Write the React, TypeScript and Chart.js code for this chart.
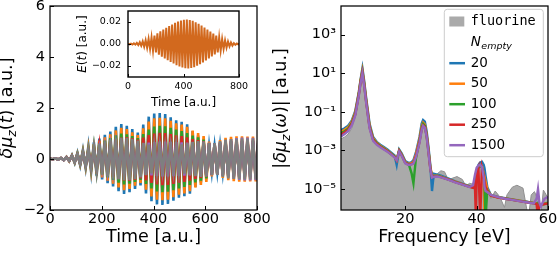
import React, { useEffect, useRef } from 'react';
import { Chart, registerables } from 'chart.js';

Chart.register(...registerables);

const FONT = '"DejaVu Sans", sans-serif';
const MONO = '"DejaVu Sans Mono", monospace';
Chart.defaults.font.family = FONT;
Chart.defaults.color = '#000';

// ---------- data ----------
const PERIOD = 21.2; // a.u., spacing of successive crests

const timeTicks = [0, 200, 400, 600, 800];
const dipoleTicks = [-2, 0, 2, 4, 6];
const dipoleTickLabels = ['\u22122', '0', '2', '4', '6'];
const fieldTimeTicks = [0, 400, 800];
const fieldTicks = [-0.02, 0, 0.02];
const fieldTickLabels = ['\u22120.02', '0.00', '0.02'];
const freqTicks = [20, 40, 60];
const specTicks = [1e-5, 1e-3, 1e-1, 1e1, 1e3];
const specTickLabels = ['10\u207B\u2075', '10\u207B\u00B3', '10\u207B\u00B9', '10\u00B9', '10\u00B3'];

const nEmptyLabels = ['20', '50', '100', '250', '1500'];

// crest amplitude of each oscillation cycle, delta mu_z(t)
const amp20 = [0.01, 0.02, 0.04, 0.08, 0.15, 0.24, 0.35, 0.5, 0.65, 0.8, 0.95, 1.08, 1.26, 1.37, 1.3, 1.17, 1.04, 1.35, 1.66, 1.78, 1.8, 1.76, 1.64, 1.52, 1.46, 1.36, 1.1, 0.92, 0.65, 0.5, 0.5, 0.52, 0.55, 0.58, 0.6, 0.6, 0.6, 0.6, 0.6];
const amp50 = [0.01, 0.02, 0.04, 0.08, 0.14, 0.22, 0.32, 0.45, 0.58, 0.72, 0.85, 0.97, 1.12, 1.22, 1.17, 1.05, 0.94, 1.2, 1.47, 1.6, 1.62, 1.6, 1.5, 1.4, 1.35, 1.26, 1.12, 1.02, 0.9, 0.68, 0.62, 0.74, 0.83, 0.87, 0.89, 0.89, 0.88, 0.88, 0.88];
const amp100 = [0.01, 0.02, 0.04, 0.07, 0.13, 0.2, 0.28, 0.38, 0.48, 0.6, 0.72, 0.82, 0.93, 1.0, 0.97, 0.9, 0.82, 0.98, 1.15, 1.27, 1.3, 1.28, 1.22, 1.15, 1.1, 1.02, 0.92, 0.85, 0.76, 0.62, 0.6, 0.64, 0.68, 0.7, 0.72, 0.72, 0.72, 0.72, 0.72];
const amp250 = [0.01, 0.02, 0.04, 0.07, 0.12, 0.18, 0.25, 0.33, 0.42, 0.52, 0.62, 0.7, 0.78, 0.84, 0.86, 0.82, 0.76, 0.84, 0.94, 1.0, 1.03, 1.02, 0.98, 0.93, 0.9, 0.85, 0.78, 0.74, 0.7, 0.62, 0.6, 0.63, 0.66, 0.68, 0.7, 0.7, 0.7, 0.7, 0.7];
const amp1500 = [0.01, 0.02, 0.04, 0.06, 0.11, 0.16, 0.22, 0.28, 0.34, 0.4, 0.46, 0.5, 0.54, 0.57, 0.59, 0.6, 0.6, 0.62, 0.64, 0.66, 0.68, 0.68, 0.67, 0.66, 0.65, 0.64, 0.64, 0.65, 0.66, 0.63, 0.62, 0.66, 0.72, 0.78, 0.82, 0.84, 0.84, 0.83, 0.82];
const ampFluorine = [0.01, 0.02, 0.04, 0.07, 0.13, 0.2, 0.29, 0.39, 0.5, 0.6, 0.68, 0.75, 0.8, 0.83, 0.83, 0.79, 0.72, 0.63, 0.56, 0.51, 0.49, 0.48, 0.49, 0.52, 0.57, 0.62, 0.67, 0.7, 0.69, 0.63, 0.62, 0.7, 0.76, 0.78, 0.79, 0.8, 0.8, 0.8, 0.8];

// crest amplitude of each cycle of the field E(t)
const fieldAmp = [0.0003, 0.0004, 0.0006, 0.001, 0.0016, 0.0024, 0.0034, 0.0046, 0.006, 0.0076, 0.0098, 0.0115, 0.0132, 0.0148, 0.0163, 0.0178, 0.0192, 0.0205, 0.0214, 0.022, 0.0222, 0.0218, 0.021, 0.0198, 0.0184, 0.0168, 0.015, 0.0132, 0.0113, 0.0094, 0.0076, 0.006, 0.0045, 0.0033, 0.0022, 0.0014, 0.0008, 0.0004, 0.0003];

// spectra |delta mu_z(omega)|, stored as log10 of the value
const specFreq = [2, 3, 4, 5, 6, 7, 7.5, 8, 8.5, 9, 10, 11, 12, 13, 14, 15, 16, 17, 17.6, 18.3, 19, 20, 21, 21.8, 22.3, 23, 24, 24.6, 25, 25.5, 26, 26.5, 27, 27.5, 28, 29, 30, 32, 34, 36, 38, 39, 39.5, 39.8, 40, 40.5, 41, 41.5, 42, 42.2, 42.5, 43, 44, 46, 48, 50, 52, 54, 56, 56.8, 57.2, 57.6, 58, 59, 60];
const logSpec20 = [-1.95, -1.85, -1.72, -1.45, -0.95, 0.05, 0.7, 1.26, 0.6, -0.2, -1.6, -2.3, -2.55, -2.7, -2.82, -2.95, -3.1, -3.25, -3.75, -2.95, -3.15, -3.55, -3.65, -3.6, -3.5, -3.1, -2.3, -1.6, -1.42, -1.5, -2.0, -2.8, -3.7, -5.1, -4.2, -4.25, -4.3, -4.45, -4.6, -4.72, -4.85, -4.9, -4.5, -4.25, -4.05, -3.75, -3.62, -3.58, -3.75, -3.9, -4.3, -4.9, -5.3, -5.4, -5.47, -5.53, -5.6, -5.65, -5.72, -5.74, -5.7, -5.76, -5.8, -5.75, -5.7];
const logSpec50 = [-2.03, -1.93, -1.8, -1.52, -1.02, 0.0, 0.65, 1.16, 0.5, -0.3, -1.7, -2.35, -2.6, -2.75, -2.87, -3.0, -3.15, -3.3, -3.5, -3.0, -3.2, -3.6, -3.7, -3.65, -3.6, -3.2, -2.4, -1.75, -1.55, -1.65, -2.15, -2.95, -3.8, -4.3, -4.3, -4.3, -4.35, -4.48, -4.62, -4.74, -4.86, -4.9, -4.6, -4.4, -4.15, -3.85, -3.75, -3.8, -4.2, -6.5, -4.6, -5.0, -5.32, -5.42, -5.48, -5.54, -5.6, -5.66, -5.72, -5.74, -5.72, -5.76, -5.8, -5.76, -5.72];
const logSpec100 = [-2.1, -2.0, -1.87, -1.58, -1.08, -0.05, 0.6, 1.1, 0.45, -0.35, -1.75, -2.4, -2.63, -2.78, -2.9, -3.02, -3.17, -3.32, -3.45, -3.0, -3.22, -3.62, -3.72, -4.2, -4.7, -3.4, -2.5, -1.85, -1.62, -1.72, -2.2, -3.0, -3.85, -4.35, -4.32, -4.32, -4.37, -4.5, -4.63, -4.75, -4.87, -4.92, -4.65, -4.45, -4.2, -3.9, -3.8, -3.85, -4.3, -4.8, -6.5, -5.05, -5.33, -5.43, -5.49, -5.55, -5.61, -5.67, -5.73, -5.75, -5.73, -5.77, -5.81, -5.77, -5.73];
const logSpec250 = [-2.18, -2.07, -1.93, -1.63, -1.13, -0.1, 0.55, 1.05, 0.4, -0.4, -1.8, -2.45, -2.66, -2.8, -2.92, -3.04, -3.19, -3.34, -3.5, -3.02, -3.25, -3.64, -3.74, -3.7, -3.65, -3.3, -2.55, -1.9, -1.7, -1.78, -2.25, -3.05, -3.9, -4.4, -4.35, -4.34, -4.38, -4.5, -4.64, -4.76, -4.88, -4.93, -4.7, -6.5, -4.3, -3.95, -6.5, -3.9, -4.3, -4.6, -4.9, -5.1, -5.34, -5.44, -5.5, -5.56, -5.62, -5.68, -5.74, -5.76, -6.5, -5.78, -5.82, -5.78, -5.74];
const logSpec1500 = [-2.27, -2.15, -2.0, -1.7, -1.18, -0.15, 0.5, 1.0, 0.35, -0.45, -1.85, -2.5, -2.7, -2.83, -2.95, -3.06, -3.2, -3.35, -3.5, -3.05, -3.27, -3.66, -3.75, -3.72, -3.68, -3.35, -2.6, -1.95, -1.72, -1.82, -2.3, -3.1, -3.92, -4.4, -4.36, -4.35, -4.39, -4.51, -4.65, -4.77, -4.89, -4.8, -4.3, -4.05, -3.9, -3.78, -3.75, -3.85, -4.4, -4.9, -5.1, -5.15, -5.3, -5.42, -5.5, -5.56, -5.62, -5.68, -5.74, -5.5, -5.0, -5.7, -5.9, -5.5, -5.4];

const fluorineFreq = [2, 3, 4, 5, 6, 7, 7.5, 8, 8.5, 9, 10, 11, 12, 13, 14, 15, 16, 17, 17.6, 18.3, 19, 20, 21, 22, 23, 24, 24.6, 25, 25.5, 26, 26.5, 27, 27.5, 28, 29, 30, 31, 32, 33, 34.5, 36, 37, 38, 39, 40, 41, 42, 43, 44, 45.2, 46.5, 47.8, 48.5, 50, 51.3, 53, 54.5, 55.3, 56.2, 57.3, 57.9, 58.7, 59.5, 60];
const logFluorine = [-2.4, -2.3, -2.15, -1.85, -1.3, -0.25, 0.45, 1.05, 0.35, -0.5, -1.8, -2.5, -2.7, -2.85, -2.95, -3.05, -3.2, -3.35, -3.45, -3.05, -3.3, -3.7, -3.8, -3.7, -3.3, -2.5, -1.95, -1.85, -1.95, -2.4, -3.1, -3.9, -4.4, -4.5, -4.2, -4.05, -4.1, -4.5, -4.45, -4.35, -4.5, -4.85, -4.7, -4.75, -4.2, -3.8, -4.1, -5.0, -5.5, -5.1, -5.4, -5.95, -5.3, -4.9, -4.8, -4.95, -6.5, -5.3, -5.13, -5.6, -6.5, -5.05, -5.3, -5.5];

// ---------- styles ----------
const SERIES_COLORS = ['#1f77b4', '#ff7f0e', '#2ca02c', '#d62728', '#9467bd'];
const FLUORINE_LINE = '#7f7f7f';
const FLUORINE_FILL = '#aaaaaa';
const FIELD_COLOR = '#d2691e';

// ---------- helpers ----------
function oscillation(amps: number[]) {
  const pts: { x: number; y: number }[] = [];
  amps.forEach((a, k) => {
    pts.push({ x: k * PERIOD, y: a });
    pts.push({ x: k * PERIOD + PERIOD / 2, y: -a });
  });
  return pts;
}

function spectrum(freqs: number[], logs: number[]) {
  return freqs.map((f, i) => ({ x: f, y: Math.pow(10, logs[i]) }));
}

function fixedTicks(values: number[]) {
  return (scale: any) => {
    scale.ticks = values.map((v) => ({ value: v }));
  };
}

function fixSize(dim: 'width' | 'height', size: number) {
  return (scale: any) => {
    scale[dim] = size;
    scale.paddingLeft = 0;
    scale.paddingRight = 0;
    scale.paddingTop = 0;
    scale.paddingBottom = 0;
  };
}

function framePlugin(id: string, lw: number, tickLen: number) {
  return {
    id,
    afterDatasetsDraw(chart: any) {
      const { ctx, chartArea } = chart;
      const { left, right, top, bottom } = chartArea;
      const xs = chart.scales.x;
      const ys = chart.scales.y;
      ctx.save();
      ctx.strokeStyle = '#000';
      ctx.lineWidth = 1;
      ctx.beginPath();
      xs.ticks.forEach((t: any) => {
        const px = Math.round(xs.getPixelForValue(t.value)) + 0.5;
        ctx.moveTo(px, bottom);
        ctx.lineTo(px, bottom - tickLen);
      });
      ys.ticks.forEach((t: any) => {
        const py = Math.round(ys.getPixelForValue(t.value)) + 0.5;
        ctx.moveTo(left, py);
        ctx.lineTo(left + tickLen, py);
      });
      ctx.stroke();
      ctx.lineWidth = lw;
      ctx.strokeRect(left, top, right - left, bottom - top);
      ctx.restore();
    },
  };
}

const whiteAreaPlugin = {
  id: 'whiteArea',
  beforeDraw(chart: any) {
    const { ctx, chartArea } = chart;
    ctx.save();
    ctx.fillStyle = '#fff';
    ctx.fillRect(chartArea.left, chartArea.top, chartArea.right - chartArea.left, chartArea.bottom - chartArea.top);
    ctx.restore();
  },
};

type Part = { t: string; italic?: boolean; scale?: number; dy?: number };

function drawRich(ctx: CanvasRenderingContext2D, parts: Part[], x: number, y: number, size: number) {
  ctx.save();
  ctx.translate(x, y);
  ctx.rotate(-Math.PI / 2);
  ctx.textAlign = 'left';
  ctx.textBaseline = 'alphabetic';
  ctx.fillStyle = '#000';
  const fonts = parts.map((p) => `${p.italic ? 'italic ' : ''}${size * (p.scale ?? 1)}px ${FONT}`);
  const widths = parts.map((p, i) => {
    ctx.font = fonts[i];
    return ctx.measureText(p.t).width;
  });
  const total = widths.reduce((a, b) => a + b, 0);
  let cx = -total / 2;
  parts.forEach((p, i) => {
    ctx.font = fonts[i];
    ctx.fillText(p.t, cx, (p.dy ?? 0) * size);
    cx += widths[i];
  });
  ctx.restore();
}

function yTitlePlugin(id: string, parts: Part[], x: number, y: number, size: number) {
  return {
    id,
    afterDraw(chart: any) {
      drawRich(chart.ctx, parts, x, y, size);
    },
  };
}

const legendPlugin = {
  id: 'specLegend',
  afterDraw(chart: any) {
    const { ctx, chartArea } = chart;
    const bw = 99;
    const bh = 147.4;
    const bx = chartArea.right - 4.7 - bw;
    const by = chartArea.top + 3.3;
    const r = 3;
    ctx.save();
    ctx.beginPath();
    ctx.moveTo(bx + r, by);
    ctx.lineTo(bx + bw - r, by);
    ctx.quadraticCurveTo(bx + bw, by, bx + bw, by + r);
    ctx.lineTo(bx + bw, by + bh - r);
    ctx.quadraticCurveTo(bx + bw, by + bh, bx + bw - r, by + bh);
    ctx.lineTo(bx + r, by + bh);
    ctx.quadraticCurveTo(bx, by + bh, bx, by + bh - r);
    ctx.lineTo(bx, by + r);
    ctx.quadraticCurveTo(bx, by, bx + r, by);
    ctx.closePath();
    ctx.fillStyle = 'rgba(255,255,255,0.8)';
    ctx.fill();
    ctx.strokeStyle = '#cccccc';
    ctx.lineWidth = 1;
    ctx.stroke();

    const rowY = (i: number) => (i === 0 ? by + 12.2 : by + 33.4 + (i - 1) * 20.5);
    const tx = bx + 26.4;
    ctx.textBaseline = 'middle';
    ctx.textAlign = 'left';
    ctx.fillStyle = FLUORINE_FILL;
    ctx.fillRect(bx + 5, rowY(0) - 5, 15, 10);
    ctx.fillStyle = '#000';
    ctx.font = `13.5px ${MONO}`;
    ctx.fillText('fluorine', tx, rowY(0));
    ctx.font = `italic 13.5px ${FONT}`;
    ctx.fillText('N', tx, rowY(1));
    const nw = ctx.measureText('N').width;
    ctx.font = `italic 9.5px ${FONT}`;
    ctx.fillText('empty', tx + nw + 0.5, rowY(1) + 3.5);
    nEmptyLabels.forEach((lab, i) => {
      const yy = rowY(i + 2);
      ctx.strokeStyle = SERIES_COLORS[i];
      ctx.lineWidth = 2.5;
      ctx.beginPath();
      ctx.moveTo(bx + 5, yy);
      ctx.lineTo(bx + 20.7, yy);
      ctx.stroke();
      ctx.fillStyle = '#000';
      ctx.font = `13.5px ${FONT}`;
      ctx.fillText(lab, tx, yy);
    });
    ctx.restore();
  },
};

const baseOptions = {
  animation: false,
  responsive: false,
  maintainAspectRatio: false,
  events: [],
  plugins: { legend: { display: false }, tooltip: { enabled: false } },
  elements: { point: { radius: 0 }, line: { tension: 0 } },
};

const noGrid = { display: false, drawTicks: false };

function leftConfig(): any {
  const series = [amp20, amp50, amp100, amp250, amp1500];
  return {
    type: 'line',
    data: {
      datasets: [
        { data: oscillation(ampFluorine), borderColor: FLUORINE_LINE, borderWidth: 2.6, order: 0, fill: false },
        ...series.map((a, i) => ({ data: oscillation(a), borderColor: SERIES_COLORS[i], borderWidth: 2.6, order: 5 - i, fill: false })),
      ],
    },
    options: {
      ...baseOptions,
      layout: { padding: { top: 6, right: 23, left: 0, bottom: 0 } },
      scales: {
        x: {
          type: 'linear', min: 0, max: 800,
          afterBuildTicks: fixedTicks(timeTicks), afterFit: fixSize('height', 43),
          grid: noGrid, border: { display: false },
          ticks: { autoSkip: false, maxRotation: 0, padding: 1, font: { size: 14.5 }, callback: (_v: any, i: number) => String(timeTicks[i]) },
          title: { display: true, text: 'Time [a.u.]', font: { size: 17.5 }, padding: { top: 0, bottom: 5.5 } },
        },
        y: {
          type: 'linear', min: -2, max: 6,
          afterBuildTicks: fixedTicks(dipoleTicks), afterFit: fixSize('width', 50),
          grid: noGrid, border: { display: false },
          ticks: { autoSkip: false, padding: 5, font: { size: 14.5 }, callback: (_v: any, i: number) => dipoleTickLabels[i] },
        },
      },
    },
    plugins: [
      framePlugin('frameLeft', 1.25, 4),
      yTitlePlugin('titleLeft', [
        { t: '\u03B4\u03BC', italic: true },
        { t: 'z', italic: true, scale: 0.7, dy: 0.2 },
        { t: '(' },
        { t: 't', italic: true },
        { t: ')' },
        { t: ' [a.u.]' },
      ], 12, 108, 17.5),
    ],
  };
}

function insetConfig(): any {
  return {
    type: 'line',
    data: {
      datasets: [{ data: oscillation(fieldAmp), borderColor: FIELD_COLOR, borderWidth: 2, fill: false }],
    },
    options: {
      ...baseOptions,
      layout: { padding: { top: 11, right: 21, left: 0, bottom: 0 } },
      scales: {
        x: {
          type: 'linear', min: 0, max: 800,
          afterBuildTicks: fixedTicks(fieldTimeTicks), afterFit: fixSize('height', 35),
          grid: noGrid, border: { display: false },
          ticks: { autoSkip: false, maxRotation: 0, padding: 4, font: { size: 9.5 }, callback: (_v: any, i: number) => String(fieldTimeTicks[i]) },
          title: { display: true, text: 'Time [a.u.]', font: { size: 12 }, padding: { top: 0, bottom: 1.8 } },
        },
        y: {
          type: 'linear', min: -0.03, max: 0.03,
          afterBuildTicks: fixedTicks(fieldTicks), afterFit: fixSize('width', 53),
          grid: noGrid, border: { display: false },
          ticks: { autoSkip: false, padding: 7, font: { size: 9.5 }, callback: (_v: any, i: number) => fieldTickLabels[i] },
        },
      },
    },
    plugins: [
      whiteAreaPlugin,
      framePlugin('frameInset', 1.4, 3),
      yTitlePlugin('titleInset', [
        { t: 'E', italic: true },
        { t: '(' },
        { t: 't', italic: true },
        { t: ')' },
        { t: ' [a.u.]' },
      ], 11, 44, 12),
    ],
  };
}

function rightConfig(): any {
  const series = [logSpec20, logSpec50, logSpec100, logSpec250, logSpec1500];
  return {
    type: 'line',
    data: {
      datasets: [
        { data: spectrum(fluorineFreq, logFluorine), borderColor: '#8f8f8f', borderWidth: 1, backgroundColor: FLUORINE_FILL, fill: 'start', order: 10 },
        ...series.map((s, i) => ({ data: spectrum(specFreq, s), borderColor: SERIES_COLORS[i], borderWidth: 2.4, order: 5 - i, fill: false })),
      ],
    },
    options: {
      ...baseOptions,
      layout: { padding: { top: 6, right: 10, left: 0, bottom: 0 } },
      scales: {
        x: {
          type: 'linear', min: 2, max: 60,
          afterBuildTicks: fixedTicks(freqTicks), afterFit: fixSize('height', 43),
          grid: noGrid, border: { display: false },
          ticks: { autoSkip: false, maxRotation: 0, padding: 1, font: { size: 14.5 }, callback: (_v: any, i: number) => String(freqTicks[i]) },
          title: { display: true, text: 'Frequency [eV]', font: { size: 17.5 }, padding: { top: 0, bottom: 5.5 } },
        },
        y: {
          type: 'logarithmic', min: 8.26e-7, max: 3.07e4,
          afterBuildTicks: fixedTicks(specTicks), afterFit: fixSize('width', 76),
          grid: noGrid, border: { display: false },
          ticks: { autoSkip: false, padding: 5, font: { size: 14.5 }, callback: (_v: any, i: number) => specTickLabels[i] },
        },
      },
    },
    plugins: [
      framePlugin('frameRight', 1.25, 4),
      legendPlugin,
      yTitlePlugin('titleRight', [
        { t: '|' },
        { t: '\u03B4\u03BC', italic: true },
        { t: 'z', italic: true, scale: 0.7, dy: 0.2 },
        { t: '(' },
        { t: '\u03C9', italic: true },
        { t: ')' },
        { t: '|' },
        { t: ' [a.u.]' },
      ], 21, 108.5, 17.5),
    ],
  };
}

export default function App() {
  const leftRef = useRef<HTMLCanvasElement>(null);
  const insetRef = useRef<HTMLCanvasElement>(null);
  const rightRef = useRef<HTMLCanvasElement>(null);

  useEffect(() => {
    const charts = [
      new Chart(leftRef.current as HTMLCanvasElement, leftConfig()),
      new Chart(rightRef.current as HTMLCanvasElement, rightConfig()),
      new Chart(insetRef.current as HTMLCanvasElement, insetConfig()),
    ];
    return () => charts.forEach((c) => c.destroy());
  }, []);

  return (
    <div style={{ position: 'absolute', left: 0, top: 0, width: 558, height: 253, background: '#fff', overflow: 'hidden' }}>
      <canvas ref={leftRef} width={280} height={253} style={{ position: 'absolute', left: 0, top: 0, width: 280, height: 253 }} />
      <canvas ref={rightRef} width={293} height={253} style={{ position: 'absolute', left: 265, top: 0, width: 293, height: 253 }} />
      <canvas ref={insetRef} width={185} height={112} style={{ position: 'absolute', left: 75, top: 0, width: 185, height: 112 }} />
    </div>
  );
}
